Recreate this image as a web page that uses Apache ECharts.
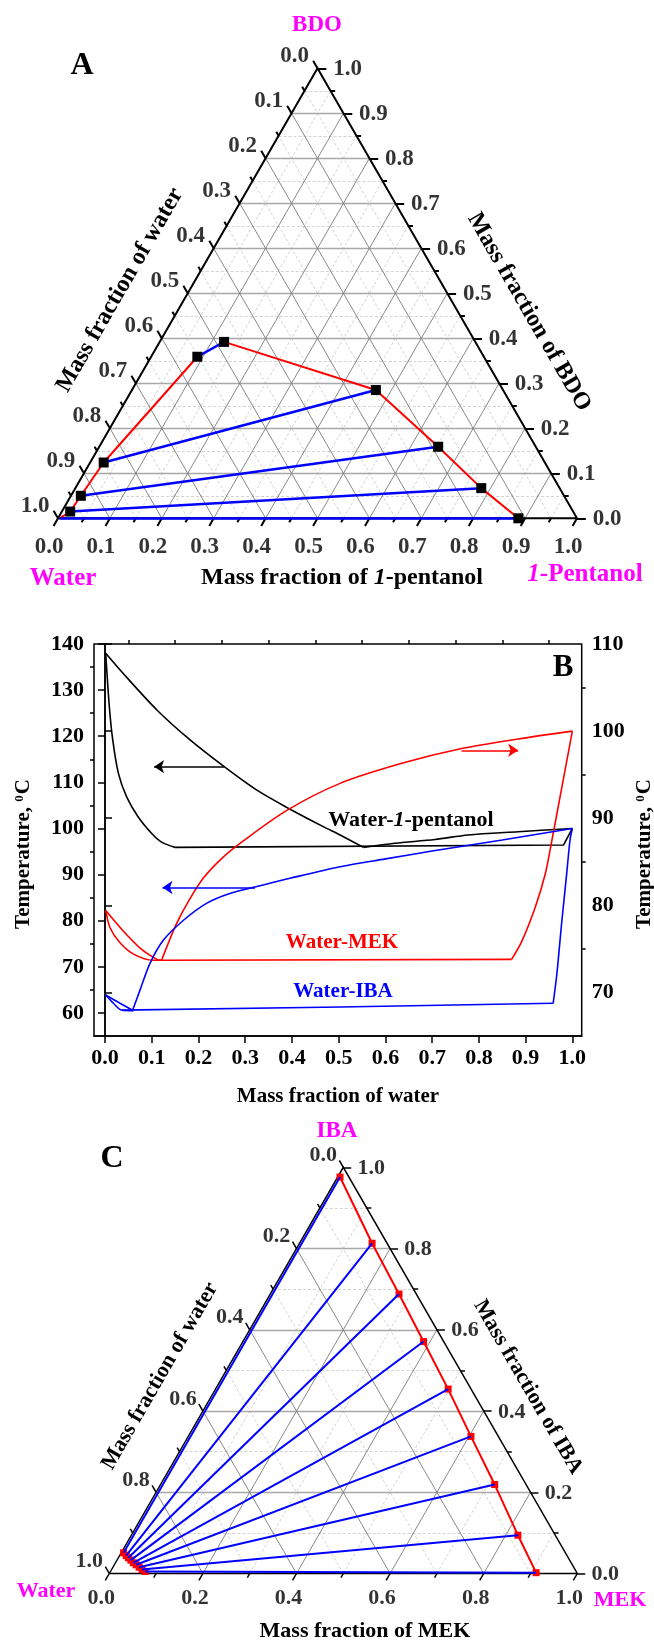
<!DOCTYPE html>
<html>
<head>
<meta charset="utf-8">
<script src="https://cdn.jsdelivr.net/npm/echarts@6/dist/echarts.min.js"></script>
<style>
  html, body { margin: 0; padding: 0; background: #fff; }
  #chart { width: 654px; height: 1643px; }
</style>
</head>
<body>
<div id="chart"></div>
<script>
// ---------- panel A : water / BDO / 1-pentanol, points are [pentanol, BDO] ----------
const aWaterPhase = [[0.003, 0], [0.016, 0.015], [0.019, 0.050], [0.026, 0.124], [0.089, 0.359]];
const aOrganicPhase = [[0.124, 0.392], [0.470, 0.285], [0.653, 0.159], [0.782, 0.067], [0.887, 0]];
const aTickLabels = ['0.0', '0.1', '0.2', '0.3', '0.4', '0.5', '0.6', '0.7', '0.8', '0.9', '1.0'];

// ---------- panel B : T-x diagrams, [water fraction, temperature] ----------
const bPentanolDew = [[0.0015, 138], [0.039, 133.6], [0.111, 125.7], [0.182, 119.2], [0.255, 113.4], [0.325, 108.3], [0.392, 104.4], [0.467, 100.4], [0.503, 98.6], [0.553, 95.9]];
const bPentanolBubble = [[0.0015, 138], [0.0092, 126.4], [0.0165, 119.2], [0.0285, 112], [0.046, 106.9], [0.071, 102.5], [0.1, 98.9], [0.12, 97.1], [0.15, 95.9]];
const bPentanolThreePhase = [[0.15, 95.9], [0.981, 96.4], [1.0, 100]];
const bPentanolRight = [[0.553, 95.9], [0.62, 96.8], [0.706, 97.6], [0.777, 98.6], [0.884, 99.3], [1.0, 100]];

const bMekLower = [[0.0015, 79.4], [0.011, 77.4], [0.032, 75.7], [0.061, 74.4], [0.103, 73.7], [0.121, 73.7]];
const bMekUpper = [[0.0015, 79.4], [0.039, 77.05], [0.075, 75.1], [0.111, 73.8], [0.121, 73.7]];
const bMekThreePhase = [[0.121, 73.7], [0.870, 73.8]];
const bMekRise = [[0.870, 73.8], [0.892, 75.9], [0.920, 79.7], [0.942, 83.6], [0.956, 87.4], [0.977, 93.4], [1.0, 100]];
const bMekDew = [[0.121, 73.7], [0.132, 75.2], [0.153, 77.9], [0.18, 80.6], [0.21, 83.1], [0.25, 85.4], [0.296, 87.4], [0.389, 90.9], [0.503, 94.0], [0.635, 96.3], [0.763, 98.0], [0.884, 99.1], [1.0, 100]];

const bIbaLower = [[0.0015, 63.9], [0.018, 62.1], [0.036, 60.6], [0.061, 60.5]];
const bIbaUpper = [[0.0015, 63.9], [0.032, 62.1], [0.059, 60.6]];
const bIbaThreePhase = [[0.036, 60.6], [0.503, 61.3], [0.959, 62.1]];
const bIbaRise = [[0.959, 62.1], [0.967, 68.6], [0.977, 79.4], [0.988, 90.3], [0.995, 97.5], [1.0, 100]];
const bIbaDew = [[0.059, 60.6], [0.075, 65], [0.096, 70.7], [0.125, 75.8], [0.168, 80.1], [0.218, 83.8], [0.267, 85.9], [0.325, 87.4], [0.396, 89.2], [0.503, 91.7], [0.6, 93.4], [0.7, 95.1], [0.85, 97.5], [1.0, 100]];

const bArrowPentanol = [[0.255, 113.4], [0.105, 113.4]];
const bArrowIba = [[0.321, 87.2], [0.123, 87.2]];
const bArrowMek = [[0.763, 97.8], [0.884, 97.8]];

const bXTicks = [0, 0.1, 0.2, 0.3, 0.4, 0.5, 0.6, 0.7, 0.8, 0.9, 1.0];
const bXMinor = [0.05, 0.15, 0.25, 0.35, 0.45, 0.55, 0.65, 0.75, 0.85, 0.95];
const bLeftTicks = [60, 70, 80, 90, 100, 110, 120, 130, 140];
const bLeftMinor = [65, 75, 85, 95, 105, 115, 125, 135];
const bRightTicks = [70, 80, 90, 100, 110];
const bRightMinor = [75, 85, 95, 105];

// ---------- panel C : water / IBA / MEK, points are [MEK, IBA] ----------
const cWaterPhase = [[0.005, 0.051], [0.014, 0.044], [0.0215, 0.0387], [0.0295, 0.033], [0.038, 0.0264], [0.0466, 0.0214], [0.056, 0.0155], [0.065, 0.0099], [0.074, 0.0049]];
const cOrganicPhase = [[0.005, 0.976], [0.155, 0.813], [0.275, 0.688], [0.386, 0.571], [0.497, 0.454], [0.604, 0.3375], [0.714, 0.219], [0.826, 0.0943], [0.911, 0.002]];
const cTickLabels = ['0.0', '0.2', '0.4', '0.6', '0.8', '1.0'];

const FONT = '"Liberation Serif", "Times New Roman", serif';
const RED = '#ff0000', BLUE = '#0000ff', MAGENTA = '#ff00ff';

// [right-vertex fraction, top-vertex fraction] -> plane
function tern(pt) { return [pt[0] + pt[1] / 2, pt[1]]; }

function linesSeries(ax, data, style, z, polyline) {
  return {
    type: 'lines', coordinateSystem: 'cartesian2d', xAxisIndex: ax, yAxisIndex: ax,
    polyline: !!polyline, data: data, lineStyle: Object.assign({ opacity: 1, curveness: 0 }, style),
    silent: true, clip: false, z: z
  };
}

function ternaryFrame(ax, cfg) {
  const n = Math.round(1 / cfg.minor);
  const hMajor = [], dMajor = [], minor = [], ticks = [];
  for (let k = 1; k < n; k++) {
    const v = k * cfg.minor;
    const h = { coords: [tern([0, v]), tern([1 - v, v])] };
    const d1 = { coords: [tern([v, 0]), tern([v, 1 - v])] };
    const d2 = { coords: [tern([1 - v, 0]), tern([0, 1 - v])] };
    if (k % cfg.every === 0) { hMajor.push(h); dMajor.push(d1, d2); }
    else minor.push(h, d1, d2);
  }
  for (let k = 0; k <= n; k++) {
    const v = k * cfg.minor;
    const t = k % cfg.every === 0 ? cfg.tMajor : cfg.tMinor;
    ticks.push({ coords: [tern([0, 1 - v]), tern([-t, 1 - v + t])] });
    ticks.push({ coords: [tern([v, 0]), tern([v, -t])] });
    ticks.push({ coords: [tern([1 - v, v]), tern([1 - v + t, v])] });
  }
  const left = [], bottom = [], right = [];
  cfg.labels.forEach(function (txt) {
    const v = parseFloat(txt);
    left.push({ name: txt, value: tern([0, 1 - v]) });
    bottom.push({ name: txt, value: tern([v, 0]) });
    right.push({ name: txt, value: tern([1 - v, v]) });
  });
  const labelSeries = function (data, offset) {
    return {
      type: 'scatter', xAxisIndex: ax, yAxisIndex: ax, data: data, symbolSize: 1,
      itemStyle: { color: 'rgba(0,0,0,0)' }, silent: true, clip: false, z: 5,
      label: {
        show: true, position: 'inside', offset: offset, formatter: '{b}',
        fontFamily: FONT, fontWeight: 'bold', fontSize: cfg.fontSize, color: '#000'
      }
    };
  };
  return [
    linesSeries(ax, minor, { color: '#c8c8c8', width: 0.8, type: [3, 2] }, 1),
    linesSeries(ax, hMajor, { color: '#a8a8a8', width: 1.4 }, 1),
    linesSeries(ax, dMajor, { color: '#7a7a7a', width: 0.9 }, 1),
    linesSeries(ax, [{ coords: [tern([0, 0]), tern([1, 0]), tern([0, 1]), tern([0, 0])] }],
      { color: '#000', width: cfg.edge, join: 'miter' }, 3, true),
    linesSeries(ax, ticks, { color: '#000', width: cfg.edge }, 3),
    labelSeries(left, cfg.offLeft),
    labelSeries(bottom, cfg.offBottom),
    labelSeries(right, cfg.offRight)
  ];
}

function ternLine(ax, pts, color, width, z) {
  return {
    type: 'line', xAxisIndex: ax, yAxisIndex: ax, data: pts.map(tern), symbol: 'none',
    lineStyle: { color: color, width: width }, clip: false, silent: true, z: z
  };
}
function ternDots(ax, pts, color, size, z) {
  return {
    type: 'scatter', xAxisIndex: ax, yAxisIndex: ax, data: pts.map(tern), symbol: 'rect',
    symbolSize: size, itemStyle: { color: color, opacity: 1 }, clip: false, silent: true, z: z
  };
}
function tieLines(ax, waterSide, organicSide, width, z) {
  const data = waterSide.map(function (w, i) { return { coords: [tern(w), tern(organicSide[i])] }; });
  return linesSeries(ax, data, { color: BLUE, width: width }, z);
}

function bLine(pts, color, yIdx, smooth) {
  return {
    type: 'line', xAxisIndex: 2, yAxisIndex: yIdx, data: pts, symbol: 'none', smooth: smooth ? 0.3 : false,
    lineStyle: { color: color, width: 1.6 }, clip: false, silent: true, z: 3
  };
}

function txt(x, y, text, size, color, rot, rich) {
  return {
    type: 'text', x: x, y: y, rotation: (rot || 0) * Math.PI / 180, silent: true, z: 10,
    style: {
      text: text, fill: color || '#000', fontFamily: FONT, fontWeight: 'bold', fontSize: size,
      align: 'center', verticalAlign: 'middle', textAlign: 'center', textVerticalAlign: 'middle',
      rich: rich
    }
  };
}
function italic(size, color) {
  return { i: { fontFamily: FONT, fontWeight: 'bold', fontStyle: 'italic', fontSize: size, fill: color } };
}
const supRich = {
  s: { fontFamily: FONT, fontWeight: 'bold', fontSize: 13, fill: '#000', verticalAlign: 'top', padding: [0, 1, 8, 0] }
};

const labelFont = { fontFamily: FONT, fontWeight: 'bold', fontSize: 22, color: '#000' };
const axLine = { show: true, lineStyle: { color: '#000', width: 1.5 } };

const series = [].concat(
  ternaryFrame(0, { minor: 0.05, every: 2, tMajor: 0.017, tMinor: 0.009, edge: 2, fontSize: 23,
    labels: aTickLabels, offLeft: [-23, -12], offBottom: [-9, 29], offRight: [30, 1] }),
  [
    ternLine(0, aWaterPhase, RED, 2, 6),
    ternLine(0, aOrganicPhase, RED, 2, 6),
    tieLines(0, aWaterPhase.slice().reverse(), aOrganicPhase, 2.5, 7),
    ternDots(0, aWaterPhase.slice(1), '#000', 10, 8),
    ternDots(0, aOrganicPhase, '#000', 10, 8)
  ],
  ternaryFrame(1, { minor: 0.1, every: 2, tMajor: 0.017, tMinor: 0.01, edge: 1.5, fontSize: 22,
    labels: cTickLabels, offLeft: [-20, -12], offBottom: [-8, 25], offRight: [28, 1] }),
  [
    ternLine(1, cWaterPhase, RED, 2, 6),
    ternLine(1, cOrganicPhase, RED, 2, 6),
    ternDots(1, cWaterPhase, RED, 7, 7),
    ternDots(1, cOrganicPhase, RED, 7, 7),
    tieLines(1, cWaterPhase, cOrganicPhase, 2, 8)
  ],
  [
    bLine(bPentanolDew, '#000', 2, true),
    bLine(bPentanolBubble, '#000', 2, true),
    bLine(bPentanolThreePhase, '#000', 2, false),
    bLine(bPentanolRight, '#000', 2, true),
    bLine(bMekLower, RED, 3, true),
    bLine(bMekUpper, RED, 3, true),
    bLine(bMekThreePhase, RED, 3, false),
    bLine(bMekRise, RED, 3, true),
    bLine(bMekDew, RED, 3, true),
    bLine(bIbaLower, BLUE, 2, true),
    bLine(bIbaUpper, BLUE, 2, true),
    bLine(bIbaThreePhase, BLUE, 2, false),
    bLine(bIbaRise, BLUE, 2, true),
    bLine(bIbaDew, BLUE, 2, true),
    {
      type: 'lines', coordinateSystem: 'cartesian2d', xAxisIndex: 2, yAxisIndex: 2, silent: true,
      symbol: ['none', 'arrow'], symbolSize: 10, clip: false, z: 4,
      lineStyle: { opacity: 1, width: 1.6, curveness: 0 },
      data: [
        { coords: bArrowPentanol, lineStyle: { color: '#000', width: 1.6, opacity: 1 } },
        { coords: bArrowIba, lineStyle: { color: BLUE, width: 1.6, opacity: 1 } }
      ]
    },
    {
      type: 'lines', coordinateSystem: 'cartesian2d', xAxisIndex: 2, yAxisIndex: 3, silent: true,
      symbol: ['none', 'arrow'], symbolSize: 10, clip: false, z: 4,
      lineStyle: { opacity: 1, width: 1.6, curveness: 0 },
      data: [{ coords: bArrowMek, lineStyle: { color: RED, width: 1.6, opacity: 1 } }]
    }
  ]
);

const option = {
  animation: false,
  backgroundColor: '#fff',
  grid: [
    { left: 58, top: 68.3, width: 519, height: 450 },
    { left: 94, top: 644, width: 487.7, height: 392, show: true, borderColor: '#000', borderWidth: 1.5 },
    { left: 109.3, top: 1167.3, width: 468, height: 406.2 }
  ],
  xAxis: [
    { gridIndex: 0, type: 'value', min: 0, max: 1, show: false },
    { gridIndex: 2, type: 'value', min: 0, max: 1, show: false },
    {
      gridIndex: 1, type: 'value', min: -0.0236, max: 1.02, axisLine: axLine, splitLine: { show: false },
      axisTick: { customValues: bXTicks, length: 7, lineStyle: { color: '#000', width: 1.5 } },
      axisLabel: Object.assign({ customValues: bXTicks, margin: 11, formatter: function (v) { return v.toFixed(1); } }, labelFont)
    },
    {
      gridIndex: 1, type: 'value', min: -0.0236, max: 1.02, axisLine: { show: false }, splitLine: { show: false },
      axisTick: { customValues: bXMinor, length: 4, lineStyle: { color: '#000', width: 1.5 } },
      axisLabel: { show: false }
    }
  ],
  yAxis: [
    { gridIndex: 0, type: 'value', min: 0, max: 1, show: false },
    { gridIndex: 2, type: 'value', min: 0, max: 1, show: false },
    {
      gridIndex: 1, type: 'value', position: 'left', min: 55, max: 140, axisLine: axLine, splitLine: { show: false },
      axisTick: { customValues: bLeftTicks, length: 7, lineStyle: { color: '#000', width: 1.5 } },
      axisLabel: Object.assign({ customValues: bLeftTicks, margin: 10 }, labelFont)
    },
    {
      gridIndex: 1, type: 'value', position: 'right', min: 65, max: 110, axisLine: axLine, splitLine: { show: false },
      axisTick: { customValues: bRightTicks, length: 7, lineStyle: { color: '#000', width: 1.5 } },
      axisLabel: Object.assign({ customValues: bRightTicks, margin: 10 }, labelFont)
    },
    {
      gridIndex: 1, type: 'value', position: 'left', min: 55, max: 140, axisLine: { show: false }, splitLine: { show: false },
      axisTick: { customValues: bLeftMinor, length: 4, lineStyle: { color: '#000', width: 1.5 } },
      axisLabel: { show: false }
    },
    {
      gridIndex: 1, type: 'value', position: 'right', min: 65, max: 110, axisLine: { show: false }, splitLine: { show: false },
      axisTick: { customValues: bRightMinor, length: 4, lineStyle: { color: '#000', width: 1.5 } },
      axisLabel: { show: false }
    }
  ],
  graphic: [
    // panel A
    txt(317, 25, 'BDO', 23, MAGENTA),
    txt(82, 66, 'A', 32),
    txt(120, 290, 'Mass fraction of water', 24, '#000', 60),
    txt(529, 312, 'Mass fraction of BDO', 24, '#000', -60),
    txt(342, 578, 'Mass fraction of {i|1}-pentanol', 24, '#000', 0, italic(24, '#000')),
    txt(63, 579, 'Water', 25, MAGENTA),
    txt(585, 575, '{i|1}-Pentanol', 25, MAGENTA, 0, italic(25, MAGENTA)),
    // panel B
    txt(563, 668, 'B', 31),
    txt(411, 820, 'Water-{i|1}-pentanol', 22, '#000', 0, italic(22, '#000')),
    txt(342, 943, 'Water-MEK', 21, RED),
    txt(343, 992, 'Water-IBA', 21, BLUE),
    txt(24, 854, 'Temperature, {s|0}C', 21, '#000', 90, supRich),
    txt(645, 854, 'Temperature, {s|0}C', 21, '#000', 90, supRich),
    txt(338, 1097, 'Mass fraction of water', 21),
    // panel C
    txt(337, 1131, 'IBA', 23, MAGENTA),
    txt(112, 1159, 'C', 32),
    txt(160, 1376, 'Mass fraction of water', 22, '#000', 60),
    txt(528, 1387, 'Mass fraction of IBA', 22, '#000', -60),
    txt(365, 1631, 'Mass fraction of MEK', 22),
    txt(46, 1591, 'Water', 22, MAGENTA),
    txt(620, 1600, 'MEK', 22, MAGENTA)
  ],
  series: series
};

const chart = echarts.init(document.getElementById('chart'));
chart.setOption(option);
</script>
</body>
</html>
